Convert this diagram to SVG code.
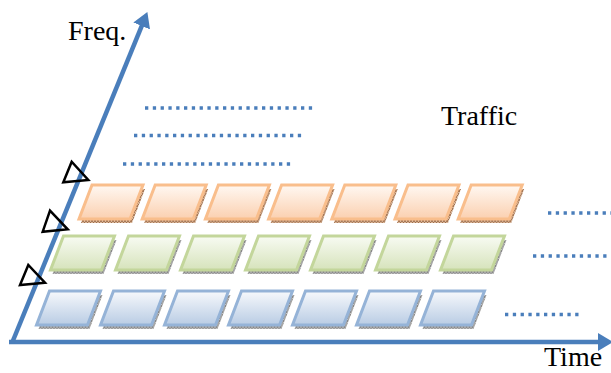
<svg xmlns="http://www.w3.org/2000/svg" xmlns:xlink="http://www.w3.org/1999/xlink" width="611" height="373" viewBox="0 0 611 373">
  <style>
    .axis { stroke: #4a7ebb; stroke-width: 4.5; fill: none; }
    .dots { stroke: #4a7ebb; stroke-width: 3.3; stroke-dasharray: 3.3 4.5; fill: none; }
    .tri { fill: none; stroke: #000; stroke-width: 2.5; stroke-linejoin: miter; }
    .label { font-family: "Liberation Serif", "Times New Roman", serif; font-size: 28px; fill: #000; }
    .face-o { fill: url(#gradO); stroke: #f9be8c; stroke-width: 3; }
    .face-g { fill: url(#gradG); stroke: #c3d69b; stroke-width: 3; }
    .face-b { fill: url(#gradB); stroke: #95b3d7; stroke-width: 3; }
    .base-o { fill: url(#hatchO); }
    .base-g { fill: url(#hatchGrey); }
    .base-b { fill: url(#hatchGrey); }
  </style>
  <defs>
    <linearGradient id="gradO" x1="0" y1="0" x2="0" y2="1">
      <stop offset="0" stop-color="#fff8f2"/>
      <stop offset="1" stop-color="#fbd0b0"/>
    </linearGradient>
    <linearGradient id="gradG" x1="0" y1="0" x2="0" y2="1">
      <stop offset="0" stop-color="#f8fbf3"/>
      <stop offset="1" stop-color="#d6e3bb"/>
    </linearGradient>
    <linearGradient id="gradB" x1="0" y1="0" x2="0" y2="1">
      <stop offset="0" stop-color="#f7f9fc"/>
      <stop offset="1" stop-color="#b9cce4"/>
    </linearGradient>
    <pattern id="hatchGrey" width="3" height="3" patternUnits="userSpaceOnUse">
      <rect width="3" height="3" fill="#c4c4c4"/>
      <path d="M0,0 L3,3 M3,0 L0,3" stroke="#7a7a7a" stroke-width="0.8"/>
    </pattern>
    <pattern id="hatchO" width="3" height="3" patternUnits="userSpaceOnUse">
      <rect width="3" height="3" fill="#d8b497"/>
      <path d="M0,0 L3,3 M3,0 L0,3" stroke="#9a6a48" stroke-width="0.8"/>
    </pattern>
    <marker id="head" markerUnits="userSpaceOnUse" markerWidth="16" markerHeight="18" viewBox="0 0 16 18" refX="4" refY="9" orient="auto">
      <path d="M0,0 L15,9 L0,18 z" fill="#4a7ebb"/>
    </marker>
    <!-- tile slab: top face and the thickness showing underneath -->
    <polygon id="face" points="0,0 51,0 38,34 -13,34"/>
    <polygon id="base" points="2,4 53,4 40,38 -11,38"/>
  </defs>

  <rect width="611" height="373" fill="#ffffff"/>

  <!-- axes -->
  <g id="connectors">
    <line class="axis" x1="9" y1="342" x2="602" y2="342" marker-end="url(#head)"/>
    <line class="axis" x1="12" y1="343" x2="143.2" y2="22.3" marker-end="url(#head)"/>
  </g>

  <!-- markers on the frequency axis -->
  <g id="freq-marks">
    <polygon class="tri" points="71.7,161.7 63.3,182.3 88.3,180"/>
    <polygon class="tri" points="50,210.7 42.7,231.7 67.7,229.3"/>
    <polygon class="tri" points="28.3,265 20,285 45,282.7"/>
  </g>

  <!-- orange row -->
  <g id="tile-o1" transform="translate(92,185)"><use href="#base" class="base-o"/><use href="#face" class="face-o"/></g>
  <g id="tile-o2" transform="translate(155.2,185)"><use href="#base" class="base-o"/><use href="#face" class="face-o"/></g>
  <g id="tile-o3" transform="translate(218.4,185)"><use href="#base" class="base-o"/><use href="#face" class="face-o"/></g>
  <g id="tile-o4" transform="translate(281.6,185)"><use href="#base" class="base-o"/><use href="#face" class="face-o"/></g>
  <g id="tile-o5" transform="translate(344.8,185)"><use href="#base" class="base-o"/><use href="#face" class="face-o"/></g>
  <g id="tile-o6" transform="translate(408,185)"><use href="#base" class="base-o"/><use href="#face" class="face-o"/></g>
  <g id="tile-o7" transform="translate(471.2,185)"><use href="#base" class="base-o"/><use href="#face" class="face-o"/></g>

  <!-- green row -->
  <g id="tile-g1" transform="translate(63.5,236)"><use href="#base" class="base-g"/><use href="#face" class="face-g"/></g>
  <g id="tile-g2" transform="translate(128.5,236)"><use href="#base" class="base-g"/><use href="#face" class="face-g"/></g>
  <g id="tile-g3" transform="translate(193.5,236)"><use href="#base" class="base-g"/><use href="#face" class="face-g"/></g>
  <g id="tile-g4" transform="translate(258.5,236)"><use href="#base" class="base-g"/><use href="#face" class="face-g"/></g>
  <g id="tile-g5" transform="translate(323.5,236)"><use href="#base" class="base-g"/><use href="#face" class="face-g"/></g>
  <g id="tile-g6" transform="translate(388.5,236)"><use href="#base" class="base-g"/><use href="#face" class="face-g"/></g>
  <g id="tile-g7" transform="translate(453.5,236)"><use href="#base" class="base-g"/><use href="#face" class="face-g"/></g>

  <!-- blue row -->
  <g id="tile-b1" transform="translate(49.5,291)"><use href="#base" class="base-b"/><use href="#face" class="face-b"/></g>
  <g id="tile-b2" transform="translate(113.5,291)"><use href="#base" class="base-b"/><use href="#face" class="face-b"/></g>
  <g id="tile-b3" transform="translate(177.5,291)"><use href="#base" class="base-b"/><use href="#face" class="face-b"/></g>
  <g id="tile-b4" transform="translate(241.5,291)"><use href="#base" class="base-b"/><use href="#face" class="face-b"/></g>
  <g id="tile-b5" transform="translate(305.5,291)"><use href="#base" class="base-b"/><use href="#face" class="face-b"/></g>
  <g id="tile-b6" transform="translate(369.5,291)"><use href="#base" class="base-b"/><use href="#face" class="face-b"/></g>
  <g id="tile-b7" transform="translate(433.5,291)"><use href="#base" class="base-b"/><use href="#face" class="face-b"/></g>

  <!-- continuation dots -->
  <g id="dots">
    <line class="dots" x1="145" y1="108" x2="314" y2="108"/>
    <line class="dots" x1="134" y1="135.5" x2="303" y2="135.5"/>
    <line class="dots" x1="123" y1="164" x2="292" y2="164"/>
    <line class="dots" x1="548" y1="213" x2="611" y2="213"/>
    <line class="dots" x1="533" y1="256" x2="607" y2="256"/>
    <line class="dots" x1="505" y1="314.5" x2="581" y2="314.5"/>
  </g>

  <!-- labels -->
  <g id="labels">
    <text class="label" x="68" y="40">Freq.</text>
    <text class="label" x="441" y="125">Traffic</text>
    <text class="label" x="544" y="366">Time</text>
  </g>
</svg>
